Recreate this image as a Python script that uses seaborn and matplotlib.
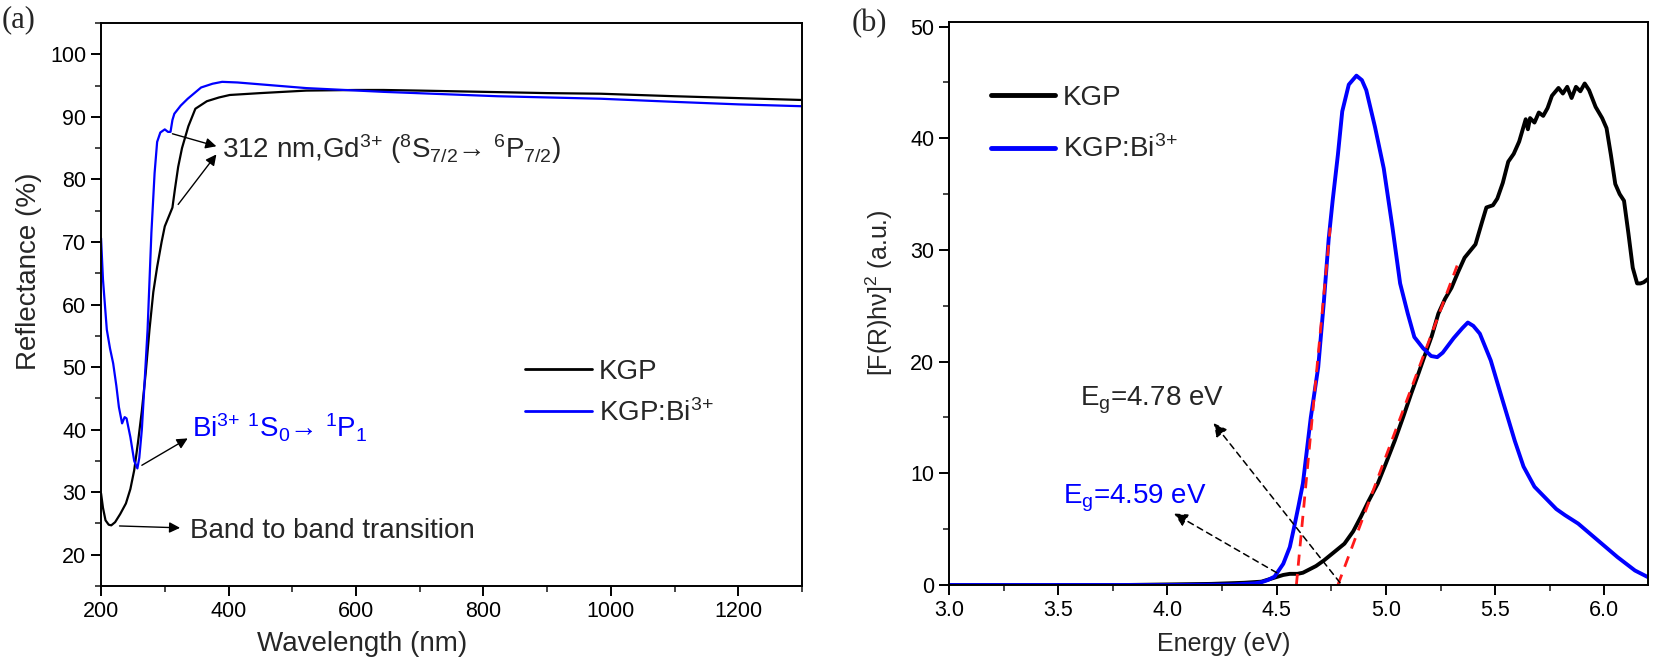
import numpy as np
import pandas as pd
import matplotlib
matplotlib.use("Agg")
import matplotlib.pyplot as plt
from matplotlib.ticker import MultipleLocator
import seaborn as sns

# ---------------- data: panel (a) reflectance ----------------
wl_kgp = [200, 203, 207, 212, 216, 222, 230, 239, 246, 252, 258, 264, 270, 276,
          282, 288, 295, 300, 306, 312, 316, 321, 327, 337, 348, 366, 385, 402,
          450, 522, 600, 643, 700, 800, 900, 984, 1100, 1200, 1300]
refl_kgp = [29.8, 27.5, 25.5, 24.8, 24.7, 25.2, 26.5, 28.2, 30.5, 33.5, 38.0, 43.0,
            49.0, 56.0, 62.0, 66.0, 70.0, 72.5, 74.0, 75.5, 78.5, 82.0, 85.0, 88.5,
            91.3, 92.5, 93.1, 93.5, 93.8, 94.2, 94.3, 94.3, 94.2, 94.0, 93.8, 93.7,
            93.3, 93.0, 92.7]

wl_bi = [200, 203, 209, 214, 219, 224, 228, 233, 237, 240, 246, 252, 257, 260,
         264, 268, 273, 279, 284, 288, 293, 300, 305, 309, 312, 315, 325, 336,
         357, 375, 390, 414, 462, 522, 643, 822, 984, 1100, 1200, 1300]
refl_bi = [70.6, 64.0, 56.0, 53.0, 50.6, 47.0, 43.6, 41.0, 42.0, 41.8, 38.8, 35.0,
           33.8, 35.5, 40.0, 47.0, 56.0, 71.5, 81.0, 86.0, 87.5, 88.0, 87.6, 87.6,
           89.5, 90.5, 91.8, 92.9, 94.7, 95.3, 95.6, 95.5, 95.1, 94.6, 94.0, 93.3,
           92.9, 92.4, 92.0, 91.7]

# ---------------- data: panel (b) [F(R)hv]^2 ----------------
en_kgp = [3.0, 3.8, 4.0, 4.2, 4.35, 4.43, 4.48, 4.53, 4.56, 4.595, 4.62, 4.64, 4.68,
          4.716, 4.76, 4.81, 4.85, 4.885, 4.92, 4.963, 5.0, 5.04, 5.08, 5.115, 5.15,
          5.175, 5.21, 5.24, 5.27, 5.30, 5.33, 5.36, 5.41, 5.44, 5.46, 5.49, 5.51,
          5.535, 5.56, 5.585, 5.61, 5.64, 5.65, 5.66, 5.68, 5.70, 5.72, 5.74, 5.76,
          5.79, 5.81, 5.83, 5.85, 5.87, 5.89, 5.91, 5.93, 5.96, 5.99, 6.01, 6.03,
          6.05, 6.07, 6.09, 6.11, 6.13, 6.15, 6.165, 6.18, 6.2]
frhv_kgp = [0.0, 0.0, 0.05, 0.1, 0.2, 0.3, 0.6, 0.9, 1.0, 1.0, 1.1, 1.3, 1.7,
            2.2, 2.9, 3.7, 4.8, 6.1, 7.5, 9.1, 10.9, 12.9, 15.1, 17.1, 19.0,
            20.4, 22.3, 24.3, 25.6, 26.6, 28.0, 29.3, 30.5, 32.5, 33.8, 34.0, 34.6,
            36.0, 37.9, 38.6, 39.7, 41.7, 40.8, 41.8, 41.4, 42.3, 42.0, 42.7, 43.8,
            44.5, 44.0, 44.6, 43.6, 44.6, 44.2, 44.9, 44.3, 42.8, 41.8, 40.9, 38.5,
            35.9, 35.0, 34.4, 31.5, 28.4, 27.0, 27.0, 27.1, 27.4]

en_bi = [3.0, 4.0, 4.3, 4.4, 4.43, 4.46, 4.49, 4.53, 4.56, 4.58, 4.60, 4.62, 4.656,
         4.69, 4.716, 4.738, 4.756, 4.78, 4.80, 4.83, 4.865, 4.89, 4.91, 4.95, 4.99,
         5.03, 5.065, 5.10, 5.13, 5.17, 5.207, 5.235, 5.26, 5.31, 5.35, 5.375, 5.40,
         5.43, 5.48, 5.53, 5.59, 5.63, 5.68, 5.74, 5.78, 5.82, 5.88, 5.97, 6.06,
         6.14, 6.2]
frhv_bi = [0.0, 0.0, 0.05, 0.15, 0.25, 0.45, 0.75, 1.9, 3.4, 5.2, 7.1, 9.1, 15.0,
           19.5, 25.4, 31.0, 34.4, 38.5, 42.4, 44.8, 45.6, 45.2, 44.3, 41.0, 37.3,
           32.0, 27.0, 24.3, 22.2, 21.2, 20.5, 20.4, 20.8, 22.1, 23.0, 23.5, 23.2,
           22.5, 20.1, 16.8, 12.9, 10.6, 8.8, 7.6, 6.8, 6.25, 5.5, 4.0, 2.5,
           1.3, 0.7]

# Tauc tangent lines (x-intercepts = band gaps)
tan_bi_e = [4.59, 4.745]
tan_bi_y = [0.0, 32.0]
tan_kgp_e = [4.78, 5.326]
tan_kgp_y = [0.0, 28.6]
base_e = [4.59, 6.2]
base_y = [0.0, 0.0]

labels = ["KGP", "KGP:Bi$^{3{+}}$"]
colors = {labels[0]: "black", labels[1]: "#0000FF"}

df_a = pd.concat([
    pd.DataFrame({"wl": wl_kgp, "R": refl_kgp, "sample": labels[0]}),
    pd.DataFrame({"wl": wl_bi, "R": refl_bi, "sample": labels[1]}),
])
df_b = pd.concat([
    pd.DataFrame({"E": en_kgp, "F": frhv_kgp, "sample": labels[0]}),
    pd.DataFrame({"E": en_bi, "F": frhv_bi, "sample": labels[1]}),
])

# ---------------- style ----------------
sns.set_style("ticks")
plt.rcParams["font.family"] = ["Liberation Sans", "DejaVu Sans"]
plt.rcParams["mathtext.fontset"] = "custom"
plt.rcParams["mathtext.rm"] = "Liberation Sans"
plt.rcParams["mathtext.it"] = "Liberation Sans:italic"
plt.rcParams["mathtext.bf"] = "Liberation Sans:bold"
plt.rcParams["mathtext.sf"] = "Liberation Sans"

fig = plt.figure(figsize=(16.54, 6.66), dpi=100)
ax1 = fig.add_axes([0.0611, 0.1201, 0.4238, 0.8453])
ax2 = fig.add_axes([0.5738, 0.1216, 0.4226, 0.8453])

def style_axes(ax, tick_fs):
    for s in ax.spines.values():
        s.set_linewidth(1.4)
        s.set_color("black")
    ax.tick_params(which="major", direction="out", length=7, width=1.4,
                   labelsize=tick_fs, top=False, right=False, colors="black")
    ax.tick_params(which="minor", direction="out", length=4.5, width=1.2,
                   top=False, right=False)

# ---------------- panel (a) ----------------
sns.lineplot(data=df_a, x="wl", y="R", hue="sample", palette=colors,
             hue_order=labels, sort=False, lw=1.6, ax=ax1, estimator=None)
ax1.set_xlim(200, 1300)
ax1.set_ylim(15, 105)
ax1.xaxis.set_major_locator(MultipleLocator(200))
ax1.xaxis.set_minor_locator(MultipleLocator(100))
ax1.yaxis.set_major_locator(MultipleLocator(10))
ax1.yaxis.set_minor_locator(MultipleLocator(5))
ax1.set_yticks([20, 30, 40, 50, 60, 70, 80, 90, 100])
style_axes(ax1, 15.5)
ax1.set_xlabel("Wavelength (nm)", fontsize=20)
ax1.set_ylabel("Reflectance (%)", fontsize=20)
ax1.xaxis.set_label_coords(0.372, -0.080)
ax1.yaxis.set_label_coords(-0.084, 0.56)
h, l = ax1.get_legend_handles_labels()
leg = ax1.legend(h, l, loc="upper left", bbox_to_anchor=(0.605, 0.403),
                 frameon=False, fontsize=20, handlelength=2.4, handletextpad=0.25,
                 borderpad=0, borderaxespad=0, labelspacing=0.5)
for ln in leg.get_lines():
    ln.set_linewidth(2.0)

arw = dict(arrowstyle="-|>", color="black", lw=1.0, mutation_scale=16,
           shrinkA=0, shrinkB=0)
ax1.annotate("", xy=(381, 85.3), xytext=(312, 87.3), arrowprops=arw)
ax1.annotate("", xy=(381, 84.0), xytext=(321, 76.0), arrowprops=arw)
ax1.text(390, 83.4, "312 nm,Gd$^{3{+}}$ ($^{8}$S$_{7/2}$→ $^{6}$P$_{7/2}$)",
         fontsize=20, va="baseline", ha="left")
ax1.annotate("", xy=(336, 38.6), xytext=(264, 34.3), arrowprops=arw)
ax1.text(342, 38.8, "Bi$^{3{+}}$ $^{1}$S$_{0}$→ $^{1}$P$_{1}$", fontsize=20,
         va="baseline", ha="left", color="#0000FF")
ax1.annotate("", xy=(324, 24.3), xytext=(229, 24.6), arrowprops=arw)
ax1.text(339, 22.7, "Band to band transition", fontsize=20, va="baseline", ha="left")

# ---------------- panel (b) ----------------
sns.lineplot(data=df_b, x="E", y="F", hue="sample", palette=colors,
             hue_order=labels, sort=False, lw=2.8, ax=ax2, estimator=None)
ax2.plot(tan_bi_e, tan_bi_y, color="#FF1A1A", lw=2.0, ls=(0, (4, 3)))
ax2.plot(tan_kgp_e, tan_kgp_y, color="#FF1A1A", lw=2.0, ls=(0, (4, 3)))
ax2.plot(base_e, base_y, color="#FF1A1A", lw=0.8)
ax2.set_xlim(3.0, 6.2)
ax2.set_ylim(0, 50.4)
ax2.xaxis.set_major_locator(MultipleLocator(0.5))
ax2.xaxis.set_minor_locator(MultipleLocator(0.25))
ax2.yaxis.set_major_locator(MultipleLocator(10))
ax2.yaxis.set_minor_locator(MultipleLocator(5))
ax2.set_xticks([3.0, 3.5, 4.0, 4.5, 5.0, 5.5, 6.0])
ax2.set_xticklabels(["3.0", "3.5", "4.0", "4.5", "5.0", "5.5", "6.0"])
style_axes(ax2, 15.5)
ax2.set_xlabel("Energy (eV)", fontsize=18)
ax2.set_ylabel("[F(R)hν]$^{2}$ (a.u.)", fontsize=18)
ax2.xaxis.set_label_coords(0.393, -0.083)
ax2.yaxis.set_label_coords(-0.077, 0.52)
h, l = ax2.get_legend_handles_labels()
leg2 = ax2.legend(h[:2], l[:2], loc="upper left", bbox_to_anchor=(0.06, 0.889),
                  frameon=False, fontsize=20, handlelength=2.3, handletextpad=0.3,
                  borderpad=0, borderaxespad=0, labelspacing=0.9)
for ln in leg2.get_lines():
    ln.set_linewidth(3.5)

darw = dict(arrowstyle="-|>", color="black", lw=1.1, mutation_scale=20,
            linestyle=(0, (4, 3)), shrinkA=0, shrinkB=0)
ax2.annotate("", xy=(4.211, 14.5), xytext=(4.79, 0.2), arrowprops=darw)
ax2.annotate("", xy=(4.03, 6.4), xytext=(4.50, 1.1), arrowprops=darw)
ax2.text(3.60, 16.1, "E$_\\mathrm{g}$=4.78 eV", fontsize=20, va="baseline", ha="left")
ax2.text(3.52, 7.3, "E$_\\mathrm{g}$=4.59 eV", fontsize=20, va="baseline", ha="left",
         color="#0000FF")

# panel labels
fig.text(0.001, 1 - 20 / 666, "(a)", fontsize=22, va="center", ha="left",
         family=["Liberation Serif", "DejaVu Serif"])
fig.text(852 / 1654, 1 - 24 / 666, "(b)", fontsize=22, va="center", ha="left",
         family=["Liberation Serif", "DejaVu Serif"])

fig.savefig("out.png", dpi=100)
